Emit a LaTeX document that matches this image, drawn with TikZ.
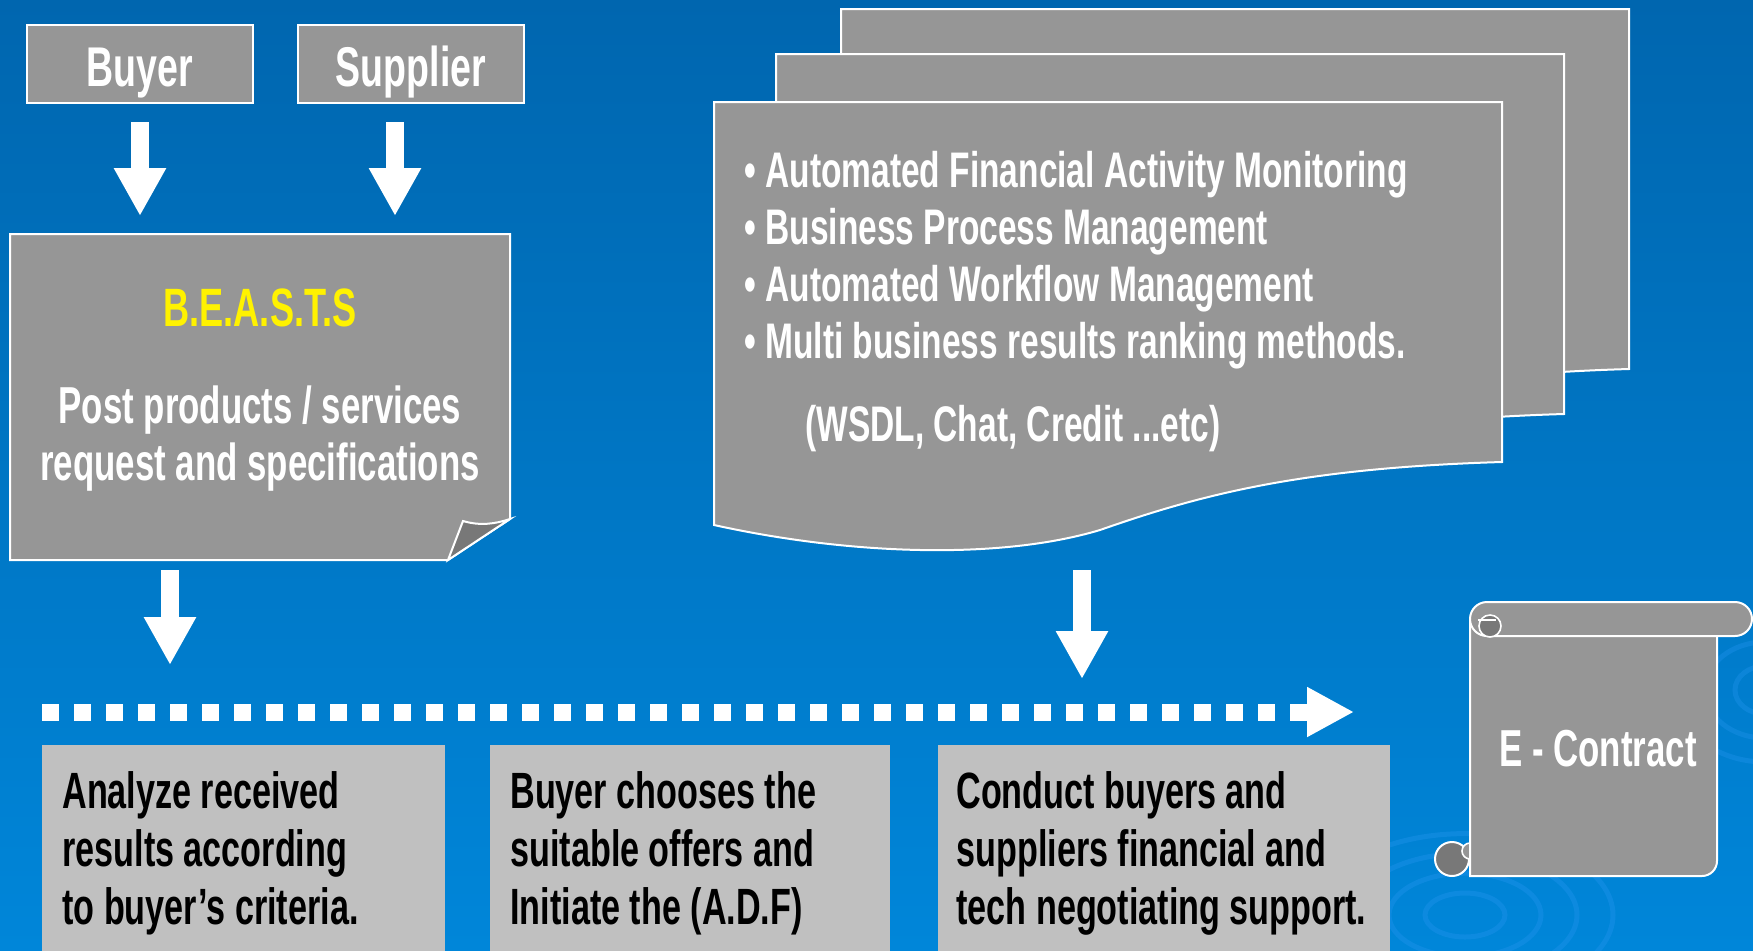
\documentclass[tikz,border=0pt]{standalone}
\usepackage{fontspec}
\setmainfont{Liberation Sans}[FakeStretch=0.67]
\usepackage{tikz}
\usetikzlibrary{arrows.meta}
\usetikzlibrary{positioning}

\definecolor{bgtop}{HTML}{0066AF}
\definecolor{bgbottom}{HTML}{0086D9}
\definecolor{sheetgray}{HTML}{969696}
\definecolor{stepgray}{HTML}{C0C0C0}
\definecolor{foldgray}{HTML}{787878}
\definecolor{ripple}{HTML}{1E92EA}

\tikzset{
  sheet/.style={fill=sheetgray, draw=white, line width=1pt},
  topbox/.style={sheet, minimum width=113pt, minimum height=39pt, inner sep=0pt,
    text height=22pt, text depth=0pt, text=white, font=\bfseries\fontsize{28}{30}\selectfont},
  stepbox/.style={fill=stepgray, anchor=north west, inner xsep=10pt, inner ysep=0pt,
    minimum height=108pt, align=flush left, text=black, font=\bfseries\fontsize{25.5}{29}\selectfont},
  whitetext/.style={text=white, inner sep=0pt, font=\bfseries\fontsize{25}{28.5}\selectfont},
  downarrow/.style={white, line width=9pt, -{Triangle[length=24pt, width=24.5pt]}},
  flowarrow/.style={white, line width=8.5pt, dash pattern=on 8.5pt off 7.5pt,
    -{Triangle[length=23.5pt, width=23.5pt]}}
}

\begin{document}
\begin{tikzpicture}[x=0.5pt, y=-0.5pt]
    \useasboundingbox (0,0) rectangle (1753,950);
    \clip (0,0) rectangle (1753,950);
    \shade[top color=bgtop, bottom color=bgbottom] (0,0) rectangle (1753,950);

    % ripples
    \foreach \r in {20,38,56,74}
        \draw[ripple, opacity=0.45, line width=2.5pt] (1465,915) ellipse ({\r pt} and {0.55*\r pt});
    \foreach \r in {15,30,45}
        \draw[ripple, opacity=0.4, line width=2.5pt] (1765,690) ellipse ({\r pt} and {0.8*\r pt});

    \coordinate (B1) at (10,234);
    \coordinate (B2) at (510,234);
    \coordinate (B3) at (510,519);
    \coordinate (B4) at (448,560);
    \coordinate (B5) at (10,560);
    \coordinate (B6) at (463,521);

    \coordinate (D1) at (170,570);
    \coordinate (D2) at (170,665);
    \coordinate (D3) at (1082,570);
    \coordinate (D4) at (1082,679);

    \coordinate (flowstart) at (42,712);
    \coordinate (flowend) at (1354,712);

    % boxes
    \node[topbox] (buyer) at (140,64) {Buyer};
    \node[topbox] (supplier) at (411,64) {Supplier};

    \draw[sheet] (B1) -- (B2) -- (B3) -- (B4) -- (B5) -- cycle;
    \draw[sheet, fill=foldgray] (B4) -- (B6) .. controls (480,526) and (495,524) .. (B3) -- cycle;

    \foreach \dx/\dy in {127/-93, 62/-48, 0/0}
        \draw[sheet, shift={(\dx,\dy)}] (714,102) -- (1502,102) -- (1502,462)
            .. controls (1300,468) and (1200,495) .. (1100,530)
            .. controls (1000,560) and (850,555) .. (714,525) -- cycle;

    \node[stepbox, text width=181.5pt] (analyze) at (42,745)
        {Analyze received\\results according\\to buyer’s criteria.};
    \node[stepbox, text width=180pt] (choose) at (490,745)
        {Buyer chooses the\\suitable offers and\\Initiate the (A.D.F)};
    \node[stepbox, inner xsep=9pt, text width=208pt] (conduct) at (938,745)
        {Conduct buyers and\\suppliers financial and\\\mbox{tech negotiating support.}};

    % scroll
    \draw[sheet] (1470,620) -- (1470,876) -- (1702,876)
        arc[start angle=-90, end angle=0, radius=7.5pt] -- (1717,620) -- cycle;
    \draw[sheet, rounded corners=8.5pt] (1470,602) rectangle (1752,636);
    \draw[sheet, fill=foldgray, line width=0.8pt] (1490,626) circle (5.5pt);
    \draw[white, line width=0.8pt] (1478,620) -- (1496,620);
    \draw[sheet, fill=foldgray] (1452,859) circle (8.5pt);
    \draw[sheet, line width=0.8pt] (1470,843) arc[start angle=90, end angle=270, radius=4pt] -- cycle;

    % arrows
    \draw[downarrow, shorten <=9pt, shorten >=9pt] (buyer.south) -- (buyer.south |- B1);
    \draw[downarrow, shorten <=9pt, shorten >=9pt] ([xshift=-8pt]supplier.south) -- ([xshift=-8pt]supplier.south |- B1);
    \draw[downarrow] (D1) -- (D2);
    \draw[downarrow] (D3) -- (D4);
    \draw[flowarrow] (flowstart) -- (flowend);

%labels
    \node[whitetext, anchor=north, text=yellow, font=\bfseries\fontsize{27}{30}\selectfont] (beasts) at (260,288) {B.E.A.S.T.S};
    \node[whitetext, anchor=north, align=center, font=\bfseries\fontsize{26}{28.5}\selectfont] (post) at (260,385)
        {Post products / services\\request and specifications};
    \node[whitetext, anchor=north west, align=left] (tools) at (744,151)
        {\textbullet\ Automated Financial Activity Monitoring\\
         \textbullet\ Business Process Management\\
         \textbullet\ Automated Workflow Management\\
         \textbullet\ Multi business results ranking methods.};
    \node[whitetext, anchor=north west] (wsdl) at (805,405) {(WSDL, Chat, Credit ...etc)};
    \node[whitetext, font=\bfseries\fontsize{26}{30}\selectfont] (contract) at (1598,749) {E - Contract};

\end{tikzpicture}
\end{document}
